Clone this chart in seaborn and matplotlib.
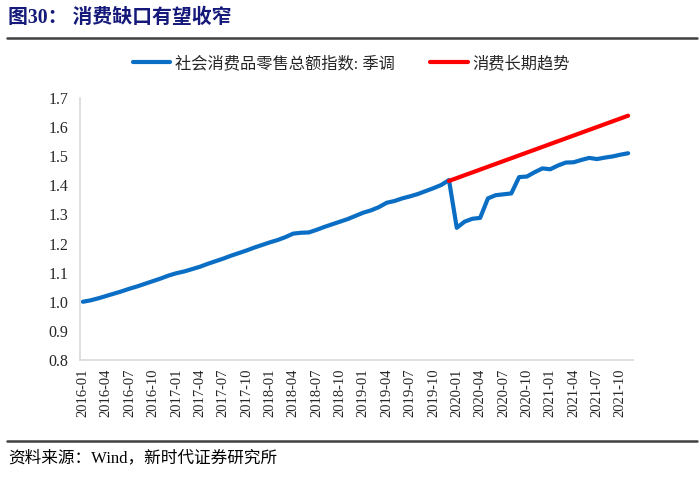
import pandas as pd
import numpy as np
import matplotlib.pyplot as plt
import seaborn as sns

# 数据：月度序列 2016-01 至 2021-11
months = [f"{y}-{m:02d}" for y in range(2016, 2022) for m in range(1, 13)][:71]

retail_idx = [
    1.000, 1.005, 1.012, 1.020, 1.028, 1.036, 1.045, 1.053, 1.062, 1.071, 1.080, 1.090,
    1.098, 1.104, 1.112, 1.120, 1.130, 1.139, 1.148, 1.158, 1.167, 1.176, 1.186, 1.195,
    1.204, 1.212, 1.222, 1.234, 1.237, 1.238, 1.247, 1.257, 1.266, 1.275, 1.284, 1.295,
    1.306, 1.314, 1.325, 1.340, 1.346, 1.355, 1.362, 1.370, 1.380, 1.390, 1.401, 1.418,
    1.254, 1.275, 1.285, 1.288, 1.355, 1.366, 1.369, 1.372, 1.428, 1.430, 1.445, 1.458,
    1.455, 1.468, 1.478, 1.479, 1.487, 1.494, 1.490, 1.495, 1.499, 1.505, 1.510,
]

trend_months = ["2019-12", "2021-11"]
trend_vals = [1.415, 1.639]

label_retail = "社会消费品零售总额指数: 季调"
label_trend = "消费长期趋势"
title = "图30： 消费缺口有望收窄"
source = "资料来源：Wind，新时代证券研究所"

yticks = [0.8, 0.9, 1.0, 1.1, 1.2, 1.3, 1.4, 1.5, 1.6, 1.7]

df = pd.DataFrame({"pos": range(len(months)), "month": months, "val": retail_idx})
df_trend = pd.DataFrame({"pos": [months.index(m) for m in trend_months], "val": trend_vals})

sns.set_style("white")
fam = ["Liberation Serif", "Noto Sans CJK SC", "DejaVu Sans"]
plt.rcParams["font.family"] = fam
plt.rcParams["axes.unicode_minus"] = False

fig = plt.figure(figsize=(7, 4.8), dpi=100)
ax = fig.add_axes([0.114, 0.25, 0.79, 0.546])

sns.lineplot(data=df, x="pos", y="val", ax=ax, color="#0a6ec4", lw=3,
             label=label_retail, solid_capstyle="round", solid_joinstyle="round")
sns.lineplot(data=df_trend, x="pos", y="val", ax=ax, color="#ff0000", lw=3,
             label=label_trend, solid_capstyle="round")

ax.set_xlim(-0.4, 70.6)
ax.set_ylim(0.8, 1.7)
ax.set_yticks(yticks)
ax.set_yticklabels([f"{v:.1f}" for v in yticks], fontsize=11.5)
tick_pos = list(range(0, len(months), 3))
ax.set_xticks(tick_pos)
ax.set_xticklabels([months[i] for i in tick_pos], rotation=90, fontsize=10.5)
ax.set_xlabel("")
ax.set_ylabel("")

for s in ["top", "right"]:
    ax.spines[s].set_visible(False)
for s in ["left", "bottom"]:
    ax.spines[s].set_color("#d9d9d9")
    ax.spines[s].set_linewidth(1.2)
ax.tick_params(axis="y", direction="in", length=4, color="#d9d9d9", pad=8)
ax.tick_params(axis="x", length=0, pad=6)

ax.legend_.remove()
handles, labels = ax.get_legend_handles_labels()
fig.legend(handles, labels, loc="center", bbox_to_anchor=(0.502, 0.867), ncol=2,
           frameon=False, fontsize=11.7, handlelength=2.3, columnspacing=2.2,
           handletextpad=0.3)

# 标题与来源
fig.text(0.012, 0.962, title, fontsize=14.3, fontweight="bold", color="#14197a",
         va="center", ha="left")
fig.add_artist(plt.Line2D([0.01, 0.996], [0.921, 0.921], color="#404040", lw=1.8))
fig.add_artist(plt.Line2D([0.01, 0.996], [0.081, 0.081], color="#404040", lw=1.8))
fig.text(0.012, 0.046, source, fontsize=12, color="black", va="center", ha="left")

fig.savefig("out.png", dpi=100)
